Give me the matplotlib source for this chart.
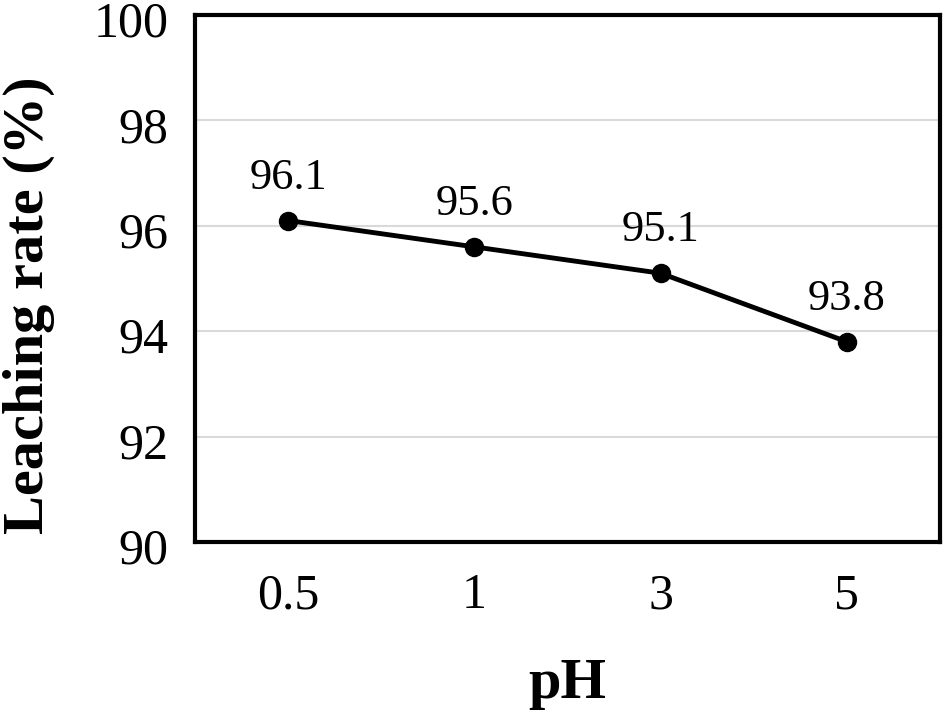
import matplotlib.pyplot as plt
from matplotlib.transforms import ScaledTranslation

ph_labels = ['0.5', '1', '3', '5']
leaching_rate = [96.1, 95.6, 95.1, 93.8]
y_ticks = [90, 92, 94, 96, 98, 100]

plt.rcParams['font.family'] = ['Liberation Serif', 'DejaVu Serif']

fig = plt.figure(figsize=(9.45, 7.15), dpi=100)
ax = fig.add_axes([195 / 945, 1 - 542 / 715, 745 / 945, 527 / 715])

x = range(len(ph_labels))
ax.plot(x, leaching_rate, color='black', lw=3.5, marker='o', markersize=13, zorder=3)
for xi, v in zip(x, leaching_rate):
    ax.annotate(f'{v}', (xi, v), xytext=(0, 23), textcoords='offset points',
                ha='center', va='baseline', fontsize=32)

ax.set_xlim(-0.5, len(ph_labels) - 0.5)
ax.set_ylim(90, 100)
ax.set_xticks(list(x))
ax.set_xticklabels(ph_labels)
ax.set_yticks(y_ticks)
ax.tick_params(length=0, labelsize=36)
ax.tick_params(axis='x', pad=22)
ax.tick_params(axis='y', pad=19)
# nudge y tick labels down a little so "100" stays inside the figure
shift = ScaledTranslation(0, -4 / 100, fig.dpi_scale_trans)
for lab in ax.get_yticklabels():
    lab.set_transform(lab.get_transform() + shift)
ax.yaxis.grid(True, color='#d9d9d9', lw=1.5)
ax.set_axisbelow(True)
for s in ax.spines.values():
    s.set_linewidth(3)

# axis titles placed in figure pixels
fig.text(567.5 / 945, 1 - 698 / 715, 'pH', fontsize=42, fontweight='bold',
         ha='center', va='baseline')
fig.text(43 / 945, 1 - 305 / 715, 'Leaching rate (%)', fontsize=42, fontweight='bold',
         rotation=90, rotation_mode='anchor', ha='center', va='baseline')

fig.savefig('out.png', dpi=100)
